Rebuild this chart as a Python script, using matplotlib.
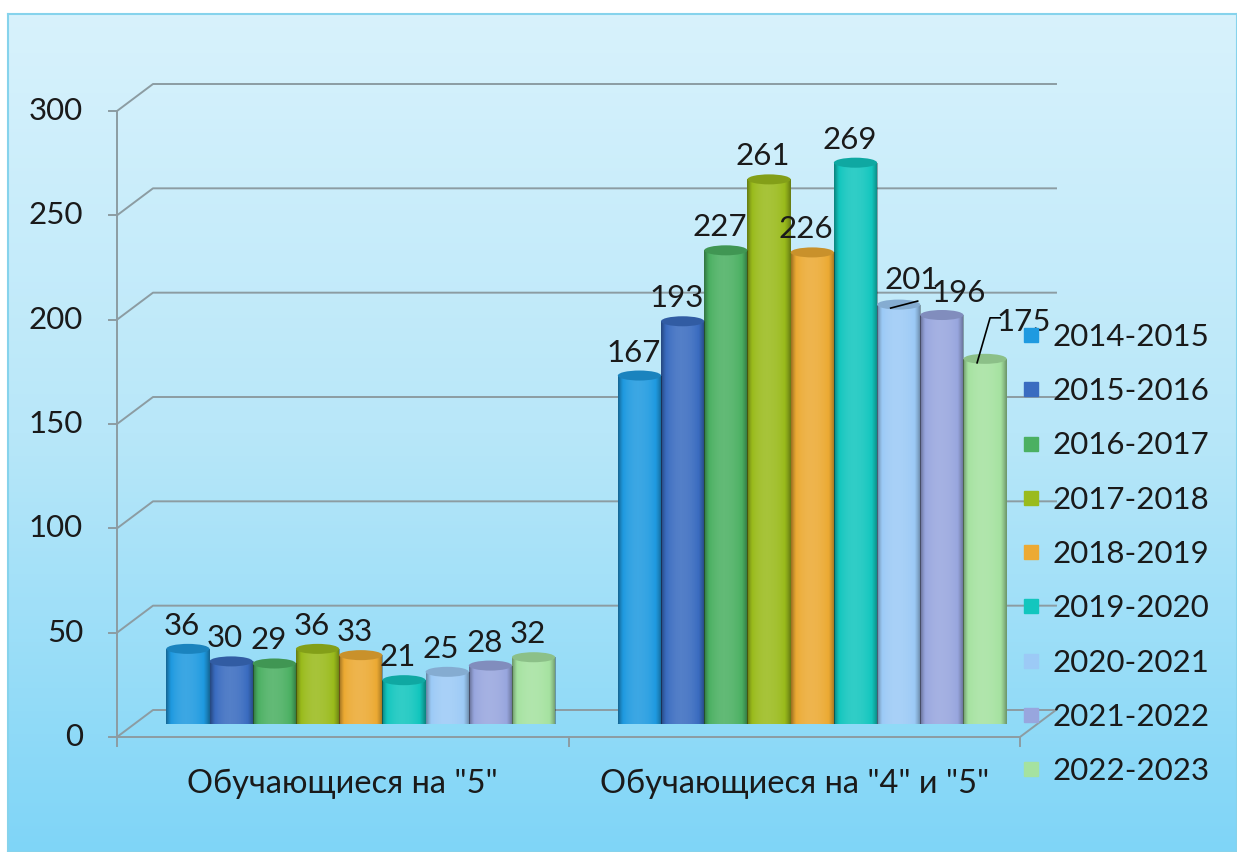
import numpy as np
import matplotlib.pyplot as plt
import matplotlib.colors as mcolors
from matplotlib.colors import LinearSegmentedColormap
from matplotlib.patches import Rectangle, Ellipse
from matplotlib.lines import Line2D
from matplotlib.transforms import offset_copy, IdentityTransform

plt.rcParams['font.family'] = ['Lato', 'DejaVu Sans']

categories = ['Обучающиеся на "5"', 'Обучающиеся на "4" и "5"']
years = ['2014-2015', '2015-2016', '2016-2017', '2017-2018', '2018-2019',
         '2019-2020', '2020-2021', '2021-2022', '2022-2023']
excellent = [36, 30, 29, 36, 33, 21, 25, 28, 32]
good_excellent = [167, 193, 227, 261, 226, 269, 201, 196, 175]
colors = ['#1f9ae0', '#3a6cc0', '#4bb062', '#9abb1c', '#ecaa33',
          '#12c6be', '#9ccaf6', '#98a6de', '#a5e2a0']
y_ticks = [0, 50, 100, 150, 200, 250, 300]

W, H = 1237, 852
fig = plt.figure(figsize=(W / 100, H / 100), dpi=100)
fig.patch.set_facecolor('white')

# background panel with vertical gradient
bg = fig.add_axes([8 / W, 0, 1 - 8 / W, 1 - 14 / H], zorder=0)
grad = np.linspace(0, 1, 256)[:, None]
bg_cmap = LinearSegmentedColormap.from_list('bg', ['#d8f2fc', '#b8e7f9', '#7fd5f7'])
bg.imshow(grad, cmap=bg_cmap, aspect='auto', extent=[0, 1, 0, 1], origin='upper')
bg.set_xticks([])
bg.set_yticks([])
for s in bg.spines.values():
    s.set_color('#86d3ec')
    s.set_linewidth(1.5)

# main axes sits in the plane of the bars
ax = fig.add_axes([135 / W, 128 / H, 903 / W, 626 / H], zorder=1)
ax.set_axis_off()
ax.patch.set_alpha(0)

front = offset_copy(ax.transData, fig=fig, x=-18, y=-13, units='dots')
back = offset_copy(ax.transData, fig=fig, x=18, y=14, units='dots')
grid_c = '#8c9ca2'
fs = 22.5


def disp_line(points, **kw):
    xs, ys = zip(*points)
    fig.add_artist(Line2D(xs, ys, transform=IdentityTransform(), **kw))


ax.set_xlim(0, 2)
ax.set_ylim(0, 300)

# walls / gridlines
for t in y_ticks:
    p0 = front.transform((0, t))
    p1 = back.transform((0, t))
    p2 = back.transform((2, t))
    disp_line([p0, p1, p2], color=grid_c, lw=1.4, zorder=1)
    disp_line([p0, p0 - np.array([8, 0])], color=grid_c, lw=1.4, zorder=1)
    ax.annotate(str(t), xy=(0, t), xycoords=front, xytext=(-34, 0),
                textcoords='offset pixels', ha='right', va='center',
                fontsize=fs, color='#1a1a1a')

disp_line([front.transform((0, 0)), front.transform((0, 300))], color=grid_c, lw=1.4)
disp_line([front.transform((0, 0)), front.transform((2, 0)), back.transform((2, 0))],
          color=grid_c, lw=1.4)
for gx in [0, 1, 2]:
    p = front.transform((gx, 0))
    disp_line([p, p - np.array([0, 9])], color=grid_c, lw=1.4)

for g, name in enumerate(categories):
    ax.annotate(name, xy=(g + 0.5, 0), xycoords=front, xytext=(0, -47),
                textcoords='offset pixels', ha='center', va='center',
                fontsize=fs + 1, color='#1a1a1a')

# cylinder shading profile
u = np.linspace(0, 1, 80)
d = np.where(u < 0.45, (0.45 - u) / 0.45, (u - 0.45) / 0.55)
s = 1 - 1.8 * d ** 2
shade = np.zeros((1, len(u), 4))
shade[0, :, :3] = np.where(s[:, None] > 0, 1.0, 0.0)
shade[0, :, 3] = np.where(s > 0, 0.13 * s, 0.42 * -s)

w = 0.0957
cap_h = 4.8

# label nudges (pixels) for crowded labels
nudges = {(1, 6): (13, 16), (1, 7): (17, 13), (1, 8): (39, 28)}

for g, vals in enumerate([excellent, good_excellent]):
    for i, v in enumerate(vals):
        x = g + 0.5 + (i - 4) * w
        c = colors[i]
        dark = np.array(mcolors.to_rgb(c)) * 0.85
        ax.add_patch(Ellipse((x, 0), w, cap_h, facecolor=dark, edgecolor='none', zorder=2))
        rect = Rectangle((x - w / 2, 0), w, v, facecolor=c, edgecolor='none', zorder=3)
        ax.add_patch(rect)
        im = ax.imshow(shade, extent=[x - w / 2, x + w / 2, 0, v], aspect='auto',
                       interpolation='bilinear', zorder=4)
        im.set_clip_path(rect)
        ax.add_patch(Ellipse((x, v), w, cap_h, facecolor=dark, edgecolor='none', zorder=5))
        dx, dy = nudges.get((g, i), (-6, 14))
        ax.annotate(str(v), xy=(x, v), xytext=(dx, dy), textcoords='offset pixels',
                    ha='center', va='baseline', fontsize=fs, color='#1a1a1a', zorder=6)
        if (g, i) == (1, 6):
            p = ax.transData.transform((x, v))
            disp_line([p + [-8, -3.5], p + [19, 3.5]], color='black', lw=1.2, zorder=6)
        if (g, i) == (1, 8):
            p = ax.transData.transform((x, v))
            disp_line([p + [-8, -4], p + [5, 41], p + [15, 41]], color='black', lw=1.2, zorder=6)

ax.set_xlim(0, 2)
ax.set_ylim(0, 300)

handles = [Line2D([], [], marker='s', ls='', color=c, markersize=10) for c in colors]
leg = fig.legend(handles, years, loc='upper left', bbox_to_anchor=(1018 / W, 1 - 323 / H),
                 frameon=False, fontsize=fs, handlelength=0.8, handletextpad=0.3,
                 labelspacing=0.84, borderaxespad=0, borderpad=0)
leg.set_zorder(10)
for t in leg.get_texts():
    t.set_color('#1a1a1a')

fig.savefig('out.png', dpi=100)
